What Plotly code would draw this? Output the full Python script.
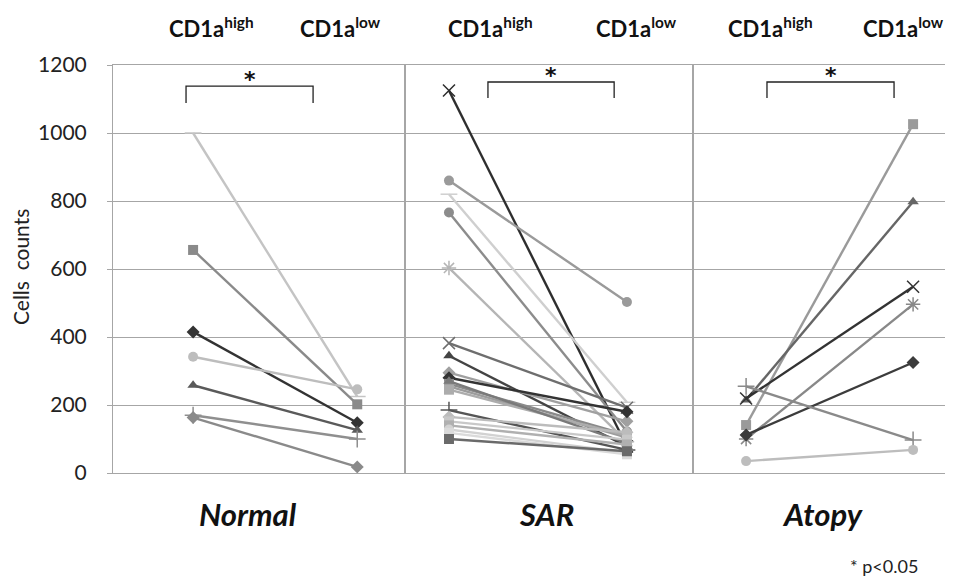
import plotly.graph_objects as go
from plotly.subplots import make_subplots

# ---------------- data ----------------
categories = ["CD1a high", "CD1a low"]
groups = ["Normal", "SAR", "Atopy"]

normal_high = [1000, 656, 415, 342, 258, 170, 163]
normal_low = [225, 202, 148, 246, 126, 100, 18]

sar_high = [1125, 860, 820, 766, 603, 382, 345, 295, 280, 262, 255, 245, 270, 185, 165, 152, 140, 128, 118, 100]
sar_low = [78, 503, 208, 122, 92, 192, 78, 152, 180, 112, 104, 110, 88, 68, 120, 98, 84, 60, 55, 64]

atopy_high = [141, 215, 219, 100, 112, 255, 35]
atopy_low = [1026, 798, 548, 496, 325, 97, 68]

tick_vals = [0, 200, 400, 600, 800, 1000, 1200]

# ---------------- styles ----------------
normal_colors = ["#c4c4c4", "#8a8a8a", "#333333", "#bdbdbd", "#5a5a5a", "#8f8f8f", "#8a8a8a"]
normal_symbols = ["line-ew-open", "square", "diamond", "circle", "triangle-up", "cross-thin-open", "diamond"]

sar_colors = ["#2e2e2e", "#9a9a9a", "#cfcfcf", "#8c8c8c", "#b5b5b5", "#6e6e6e", "#444444", "#a0a0a0",
              "#333333", "#8a8a8a", "#9c9c9c", "#acacac", "#7a7a7a", "#555555", "#bcbcbc", "#c8c8c8",
              "#b0b0b0", "#d2d2d2", "#dadada", "#6a6a6a"]
sar_symbols = ["x-thin-open", "circle", "line-ew-open", "circle", "asterisk-open", "x-thin-open", "triangle-up",
               "diamond", "diamond", "square", "square", "square", "triangle-up", "cross-thin-open", "diamond",
               "square", "square", "circle", "square", "square"]

atopy_colors = ["#9a9a9a", "#666666", "#333333", "#888888", "#3c3c3c", "#8a8a8a", "#bdbdbd"]
atopy_symbols = ["square", "triangle-up", "x-thin-open", "asterisk-open", "diamond", "cross-thin-open", "circle"]

# page offset from the browser's default body margin
OX, OY = 8, 8
PAGE_W, PAGE_H = 953, 580
plot_left, plot_right, plot_top, plot_bottom = 113, 952, 65, 473   # page pixels

W, H = PAGE_W - OX, PAGE_H - OY
L = plot_left - OX
T = plot_top - OY
R = W - (plot_right - OX)
B = H - (plot_bottom - OY)

panel_px = [292, 288, 259]
x_ranges = [[-0.488, 1.291], [-0.247, 1.371], [-0.318, 1.233]]
grid_col = "#a6a6a6"
font_family = "Lato, 'Open Sans', sans-serif"

fig = make_subplots(rows=1, cols=3, shared_yaxes=True, horizontal_spacing=0,
                    column_widths=panel_px)

panels = [
    (normal_high, normal_low, normal_colors, normal_symbols),
    (sar_high, sar_low, sar_colors, sar_symbols),
    (atopy_high, atopy_low, atopy_colors, atopy_symbols),
]

for ci, (hi, lo, cols, syms) in enumerate(panels, start=1):
    for h, l, c, s in zip(hi, lo, cols, syms):
        open_sym = s.endswith("open")
        fig.add_trace(go.Scatter(
            x=categories, y=[h, l], mode="lines+markers",
            line=dict(color=c, width=2.4),
            marker=dict(symbol=s, size=12 if open_sym else 10, color=c,
                        line=dict(width=1.5 if open_sym else 0, color=c)),
            showlegend=False, hoverinfo="skip"), row=1, col=ci)

for ci in range(1, 4):
    fig.update_xaxes(type="category", range=x_ranges[ci - 1], showticklabels=False,
                     showgrid=False, showline=True, mirror=True, linecolor=grid_col,
                     linewidth=1, zeroline=False, ticks="", row=1, col=ci)
    fig.update_yaxes(range=[0, 1200], tickvals=tick_vals, showgrid=True, gridcolor=grid_col,
                     gridwidth=1, showline=True, mirror=True, linecolor=grid_col, linewidth=1,
                     zeroline=False, row=1, col=ci)

fig.update_yaxes(ticks="outside", ticklen=5, tickcolor=grid_col, ticklabelstandoff=16,
                 tickfont=dict(size=21, color="#222222", family=font_family), row=1, col=1)

# significance brackets
brackets = [("x", -0.043, 0.731, 1138, 1088), ("x2", 0.219, 0.928, 1150, 1103),
            ("x3", 0.125, 0.886, 1150, 1103)]
for xr, x0, x1, ytop, ybot in brackets:
    fig.add_shape(type="path", xref=xr, yref="y",
                  path=f"M {x0} {ybot} L {x0} {ytop} L {x1} {ytop} L {x1} {ybot}",
                  line=dict(color="#222222", width=1.3))
    fig.add_annotation(x=(x0 + x1) / 2, y=ytop, xref=xr, yref="y", text="<b>*</b>",
                       showarrow=False, yanchor="bottom", yshift=-8,
                       font=dict(size=22, color="#111111", family="DejaVu Sans"))

plot_w = plot_right - plot_left
plot_h = plot_bottom - plot_top

def px(x):
    return (x - plot_left) / plot_w

def py(y):
    return (plot_bottom - y) / plot_h

# top column labels
top_centers = [211, 340, 490, 636, 770, 903]
top_texts = ["CD1a<sup>high</sup>", "CD1a<sup>low</sup>"] * 3
for xc, t in zip(top_centers, top_texts):
    fig.add_annotation(x=px(xc), y=py(27), xref="paper", yref="paper", text=f"<b>{t}</b>",
                       showarrow=False, xanchor="center", yanchor="middle",
                       font=dict(size=22, color="#111111", family=font_family))

# group labels
group_centers = [248, 546, 822]
for xc, g in zip(group_centers, groups):
    fig.add_annotation(x=px(xc), y=py(514), xref="paper", yref="paper", text=f"<b><i>{g}</i></b>",
                       showarrow=False, xanchor="center", yanchor="middle",
                       font=dict(size=31, color="#111111", family=font_family))

fig.add_annotation(x=px(884), y=py(566), xref="paper", yref="paper", text="* p<0.05",
                   showarrow=False, xanchor="center", yanchor="middle",
                   font=dict(size=18, color="#222222", family=font_family))

fig.add_annotation(x=px(20), y=py(267), xref="paper", yref="paper", text="Cells\u00a0\u00a0counts",
                   showarrow=False, textangle=-90, xanchor="center", yanchor="middle",
                   font=dict(size=21, color="#222222", family=font_family))

fig.update_layout(width=W, height=H, margin=dict(l=L, r=R, t=T, b=B),
                  plot_bgcolor="white", paper_bgcolor="white",
                  font=dict(family=font_family))

fig.write_html("out.html")
